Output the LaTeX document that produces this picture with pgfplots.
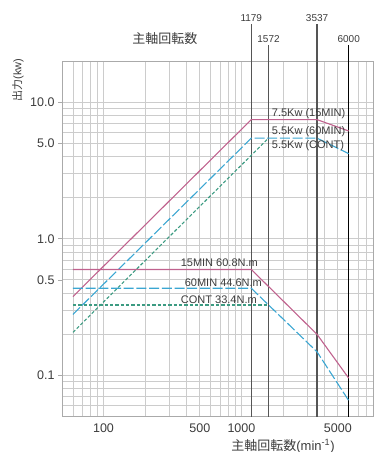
\documentclass[border=0pt]{standalone}
\usepackage{fontspec}
\setmainfont{Liberation Sans}
\newfontfamily\jp{Noto Sans CJK JP}
\usepackage{pgfplots}
\pgfplotsset{compat=1.18}
\definecolor{cpink}{RGB}{192,98,142}
\definecolor{cblue}{RGB}{58,166,210}
\definecolor{cgreen}{RGB}{60,155,130}
\definecolor{gridgray}{RGB}{204,204,204}
\definecolor{axisgray}{RGB}{170,170,170}
\definecolor{refdark}{RGB}{85,85,85}
\definecolor{textgray}{RGB}{60,60,60}
\begin{document}
\begin{tikzpicture}
\begin{axis}[
  scale only axis, width=311pt, height=355.7pt,
  xmode=log, ymode=log,
  xmin=50, xmax=9000, ymin=0.05, ymax=20,
  clip=false,
  axis line style={draw=axisgray, line width=0.8pt},
  xtick={100,500,1000,5000}, xticklabels={100,500,1000,5000},
  ytick={0.1,0.5,1,5,10}, yticklabels={0.1,0.5,1.0,5.0,10.0},
  minor xtick={60,70,80,90,200,300,400,600,700,800,900,2000,3000,4000,6000,7000,8000},
  minor ytick={0.06,0.07,0.08,0.09,0.2,0.3,0.4,0.6,0.7,0.8,0.9,2,3,4,6,7,8,9},
  grid=both,
  major grid style={draw=gridgray, line width=1pt},
  minor grid style={draw=gridgray, line width=0.8pt},
  tick align=outside, major tick length=4pt, minor tick length=0pt,
  xtick style={draw=none}, ytick style={draw=axisgray, line width=0.8pt},
  tick label style={font=\fontsize{12.5}{14}\selectfont, text=textgray},
  /pgf/number format/assume math mode=true,
]
\coordinate (SW) at (rel axis cs:0,0);
\coordinate (NE) at (rel axis cs:1,1);
% reference speed lines
\addplot[refdark, line width=1.2pt] coordinates {(1179,0.05) (1179,37.5)}
  node[pos=1, anchor=south, inner sep=1.5pt, font=\fontsize{10}{12}\selectfont, text=textgray] {1179};
\addplot[refdark, line width=1.2pt] coordinates {(1572,0.05) (1572,26.3)}
  node[pos=1, anchor=south, inner sep=1.5pt, font=\fontsize{10}{12}\selectfont, text=textgray] {1572};
\addplot[refdark, line width=1.2pt] coordinates {(3537,0.05) (3537,37.5)}
  node[pos=1, anchor=south, inner sep=1.5pt, font=\fontsize{10}{12}\selectfont, text=textgray] {3537};
\addplot[black, line width=1.2pt] coordinates {(6000,0.05) (6000,26.3)}
  node[pos=1, anchor=south, inner sep=1.5pt, font=\fontsize{10}{12}\selectfont, text=textgray] {6000};
% power curves
\addplot[cgreen, line width=1.1pt, dash pattern=on 3.3pt off 2pt] coordinates {(60,0.207) (1572,5.45)};
\addplot[cblue, line width=1.1pt, dash pattern=on 10pt off 2.7pt] coordinates {(60,0.28) (1179,5.45) (3537,5.45) (6000,4.2)};
\addplot[cpink, line width=1.1pt] coordinates {(60,0.378) (1179,7.45) (3537,7.45) (6000,6.15)};
% torque curves
\addplot[cgreen, line width=1.1pt, dash pattern=on 3.3pt off 2pt] coordinates {(60,0.328) (1572,0.328)};
\addplot[cblue, line width=1.1pt, dash pattern=on 10pt off 2.7pt] coordinates {(60,0.435) (1179,0.435) (3537,0.149) (6000,0.0656)};
\addplot[cpink, line width=1.1pt] coordinates {(60,0.597) (1179,0.597) (3537,0.2) (6000,0.0957)};
% annotations
\begin{scope}[every node/.style={font=\fontsize{11}{13}\selectfont, text=textgray, inner sep=0pt}]
\node[anchor=west] at (axis cs:1659,8.21) {7.5Kw (15MIN)};
\node[anchor=west] at (axis cs:1659,6.09) {5.5Kw (60MIN)};
\node[anchor=west] at (axis cs:1659,4.79) {5.5Kw (CONT)};
\node[anchor=east] at (axis cs:1319,0.667) {15MIN 60.8N.m};
\node[anchor=east] at (axis cs:1411,0.479) {60MIN 44.6N.m};
\node[anchor=east] at (axis cs:1297,0.36) {CONT 33.4N.m};
\end{scope}
\node[font=\fontsize{13}{15}\selectfont\jp, text=textgray] at (rel axis cs:0.331,1.0619) {主軸回転数};
\node[rotate=90, font=\fontsize{11}{13}\selectfont, text=textgray] at (rel axis cs:-0.1415,0.9466) {{\jp 出力}(kw)};
\node[font=\fontsize{13}{15}\selectfont, text=textgray] at (rel axis cs:0.7106,-0.0824) {{\jp 主軸回転数}(min\textsuperscript{-1})};
\end{axis}
\pgfresetboundingbox
\path ([shift={(-62pt,-35.3pt)}]SW) rectangle ([shift={(1pt,61pt)}]NE);
\end{tikzpicture}
\end{document}
